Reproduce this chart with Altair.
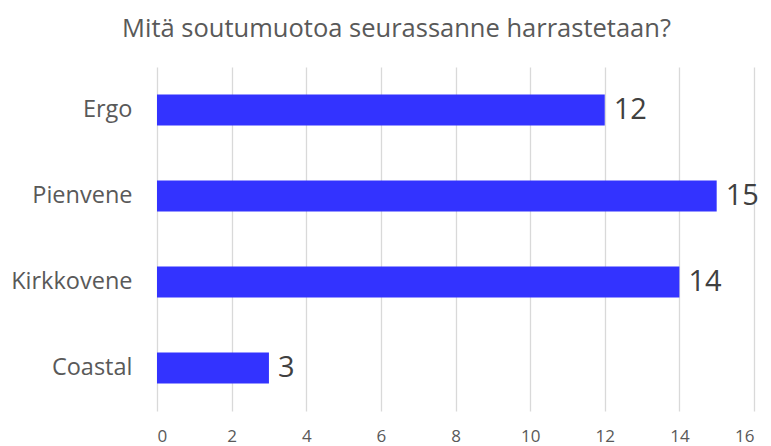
import altair as alt
import pandas as pd

categories = ["Ergo", "Pienvene", "Kirkkovene", "Coastal"]
values = [12, 15, 14, 3]
x_ticks = [0, 2, 4, 6, 8, 10, 12, 14, 16]
title_text = "Mitä soutumuotoa seurassanne harrastetaan?"

df = pd.DataFrame({"cat": categories, "val": values})

FONT = "Open Sans"

base = alt.Chart(df).encode(
    y=alt.Y("cat:N", sort=categories, title=None,
            scale=alt.Scale(paddingInner=0.64, paddingOuter=0.32),
            axis=alt.Axis(domain=False, ticks=False, labelFontSize=23.5,
                          labelColor="#595959", labelFont=FONT,
                          labelPadding=25, grid=False)),
)

bars = base.mark_bar(color="#3333FF").encode(
    x=alt.X("val:Q", title=None,
            scale=alt.Scale(domain=[0, 16], nice=False),
            axis=alt.Axis(values=x_ticks, domain=False, ticks=False,
                          gridColor="#d9d9d9", gridWidth=1.3,
                          labelFontSize=17, labelColor="#595959",
                          labelFont=FONT, labelPadding=17)),
)

labels = base.mark_text(align="left", baseline="middle", dx=9,
                        fontSize=29, color="#404040", font=FONT).encode(
    x="val:Q", text="val:Q")

chart = (bars + labels).properties(
    width=597, height=344,
    padding={"left": 149, "top": 59, "right": 9, "bottom": 35},
    autosize=alt.AutoSizeParams(type="none"),
    title=alt.TitleParams(title_text, fontSize=25.5, font=FONT, color="#595959",
                          fontWeight="normal", anchor="middle", frame="group",
                          dx=-59, offset=25),
).configure_view(stroke=None)

chart.save("out.html", embed_options={"renderer": "svg", "actions": False})
